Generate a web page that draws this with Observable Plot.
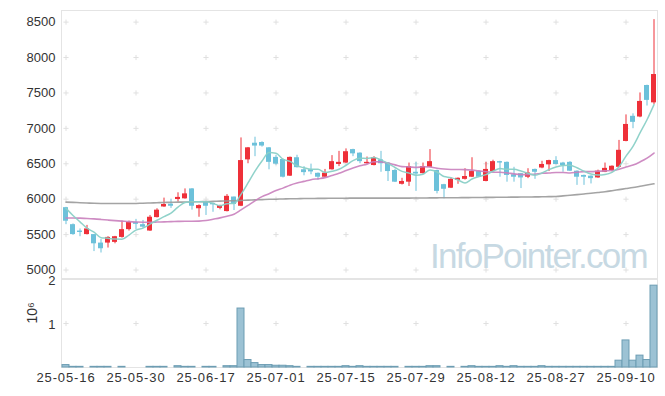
<!DOCTYPE html>
<html><head><meta charset="utf-8">
<script src="https://cdn.jsdelivr.net/npm/d3@7"></script>
<script src="https://cdn.jsdelivr.net/npm/@observablehq/plot@0.6"></script>
<style>
body{margin:0;background:#fff;}
#chart{position:relative;width:665px;height:396px;font-family:"Liberation Sans",Arial,sans-serif;overflow:hidden;}
#chart svg{position:absolute;left:0;overflow:visible;background:transparent;}
.wm{position:absolute;left:430px;top:238px;font-size:35px;line-height:35px;color:#c7d9e3;letter-spacing:-1.75px;white-space:nowrap;font-family:"Liberation Sans",Arial,sans-serif;}
</style></head><body><div id="chart"></div>
<script>
const dates = ["2025-05-16","2025-05-19","2025-05-20","2025-05-21","2025-05-22","2025-05-23","2025-05-26","2025-05-27","2025-05-28","2025-05-29",
"2025-05-30","2025-06-02","2025-06-04","2025-06-05","2025-06-09","2025-06-10","2025-06-11","2025-06-12","2025-06-13","2025-06-16",
"2025-06-17","2025-06-18","2025-06-19","2025-06-20","2025-06-23","2025-06-24","2025-06-25","2025-06-26","2025-06-27","2025-06-30",
"2025-07-01","2025-07-02","2025-07-03","2025-07-04","2025-07-07","2025-07-08","2025-07-09","2025-07-10","2025-07-11","2025-07-14",
"2025-07-15","2025-07-16","2025-07-17","2025-07-18","2025-07-21","2025-07-22","2025-07-23","2025-07-24","2025-07-25","2025-07-28",
"2025-07-29","2025-07-30","2025-07-31","2025-08-01","2025-08-04","2025-08-05","2025-08-06","2025-08-07","2025-08-08","2025-08-11",
"2025-08-12","2025-08-13","2025-08-14","2025-08-18","2025-08-19","2025-08-20","2025-08-21","2025-08-22","2025-08-25","2025-08-26",
"2025-08-27","2025-08-28","2025-08-29","2025-09-01","2025-09-02","2025-09-03","2025-09-04","2025-09-05","2025-09-08","2025-09-09",
"2025-09-10","2025-09-11","2025-09-12","2025-09-15","2025-09-16"];
const open = [5880,5640,5550,5500,5500,5380,5380,5390,5460,5570,
5670,5640,5550,5740,5890,5930,5995,6005,6145,5865,
5955,5940,5870,5825,6030,5900,6555,6790,6800,6725,
6590,6560,6325,6585,6415,6415,6365,6310,6415,6490,
6510,6700,6650,6500,6475,6555,6510,6405,6210,6240,
6380,6360,6450,6405,6205,6155,6265,6280,6310,6390,
6250,6390,6530,6520,6345,6360,6310,6420,6440,6485,
6545,6510,6520,6395,6335,6325,6300,6380,6405,6450,
6815,7170,7160,7605,7360];
const high = [5885,5650,5580,5630,5500,5430,5470,5475,5690,5690,
5715,5700,5770,5865,6015,6000,6090,6145,6150,5920,
5960,5945,5915,6065,6030,6865,6730,6875,6810,6730,
6620,6565,6595,6620,6460,6495,6370,6420,6615,6675,
6710,6705,6655,6595,6600,6675,6515,6420,6295,6510,
6520,6510,6700,6410,6210,6300,6300,6430,6585,6395,
6520,6550,6535,6525,6450,6365,6430,6425,6535,6550,
6600,6520,6530,6400,6340,6330,6410,6510,6470,6830,
7190,7205,7500,7610,8535];
const low = [5640,5490,5470,5495,5260,5240,5310,5370,5450,5550,
5570,5590,5545,5735,5885,5870,5960,6000,5845,5745,
5770,5815,5850,5820,5840,5895,6500,6600,6735,6415,
6480,6300,6320,6440,6330,6345,6265,6305,6410,6460,
6505,6600,6500,6495,6470,6380,6250,6235,6200,6180,
6110,6355,6445,6075,6005,6150,6210,6270,6305,6305,
6245,6385,6310,6240,6240,6150,6290,6280,6430,6390,
6485,6380,6390,6195,6195,6215,6295,6375,6385,6445,
6810,6995,7150,7315,7335];
const close = [5689,5500,5530,5580,5370,5300,5460,5470,5570,5670,
5645,5605,5745,5845,5925,5900,6025,6075,5900,5910,
5900,5920,5910,6040,5925,6545,6725,6750,6750,6520,
6495,6310,6590,6445,6375,6385,6310,6367,6530,6520,
6670,6640,6530,6520,6585,6500,6390,6240,6250,6460,
6355,6460,6530,6110,6140,6280,6295,6320,6390,6310,
6420,6530,6510,6335,6310,6300,6370,6380,6490,6545,
6490,6475,6395,6310,6310,6290,6395,6435,6465,6690,
7055,7085,7380,7395,7760];
const volume = [55000,15000,15000,3000,15000,15000,15000,3000,15000,3000,
3000,3000,15000,15000,15000,3000,30000,15000,15000,3000,
15000,15000,3000,30000,30000,1340000,170000,100000,55000,55000,
40000,40000,30000,15000,3000,15000,15000,15000,15000,15000,
30000,15000,30000,15000,15000,15000,15000,15000,3000,15000,
15000,15000,30000,30000,3000,15000,3000,15000,30000,15000,
15000,15000,30000,15000,30000,15000,15000,15000,30000,15000,
15000,15000,15000,15000,15000,15000,15000,15000,15000,155000,
615000,155000,270000,170000,1860000];
const ma5 = [5870,5770,5680,5590,5534,5456,5448,5436,5434,5494,
5563,5592,5647,5702,5753,5804,5888,5954,5965,5962,
5962,5941,5908,5936,5939,6068,6229,6397,6539,6658,
6648,6565,6533,6472,6443,6421,6421,6376,6393,6422,
6479,6545,6578,6576,6589,6555,6505,6447,6393,6368,
6339,6353,6411,6383,6319,6304,6271,6229,6285,6319,
6347,6394,6432,6421,6421,6397,6365,6339,6370,6417,
6455,6476,6479,6443,6396,6356,6340,6348,6379,6455,
6608,6746,6935,7121,7335];
const ma20 = [5735,5735,5732,5728,5722,5714,5705,5697,5690,5683,
5678,5675,5675,5677,5680,5683,5686,5688,5688,5690,
5698,5717,5736,5759,5787,5849,5913,5977,6036,6078,
6121,6156,6198,6228,6251,6275,6289,6304,6335,6366,
6404,6440,6471,6495,6528,6526,6509,6484,6459,6456,
6449,6457,6454,6437,6425,6420,6419,6417,6410,6399,
6387,6381,6380,6371,6357,6347,6346,6353,6365,6369,
6376,6377,6370,6380,6389,6389,6394,6400,6404,6423,
6455,6482,6526,6579,6651];
const ma60 = [5958,5955,5950,5946,5942,5940,5939,5938,5938,5938,
5940,5943,5946,5950,5953,5956,5958,5960,5962,5964,
5966,5969,5972,5975,5978,5982,5986,5990,5994,5998,
6000,6003,6005,6007,6009,6010,6011,6012,6013,6014,
6014,6015,6015,6015,6015,6015,6015,6015,6015,6015,
6016,6017,6018,6019,6020,6020,6021,6022,6023,6024,
6025,6026,6027,6028,6029,6030,6031,6032,6034,6036,
6038,6046,6055,6064,6074,6084,6095,6106,6120,6135,
6150,6165,6182,6199,6217];
const dateTicks = ["2025-05-16","2025-05-30","2025-06-17","2025-07-01","2025-07-15","2025-07-29","2025-08-12","2025-08-27","2025-09-10"];
const priceTicks = [5000,5500,6000,6500,7000,7500,8000,8500];
const volumeTicks = [1000000,2000000];

const RED = "#ee3039", BLUE = "#6cc1da";
const data = dates.map((d, i) => ({date: d, open: open[i], high: high[i], low: low[i], close: close[i],
  volume: volume[i], ma5: ma5[i], ma20: ma20[i], ma60: ma60[i]}));
const col = d => d.close >= d.open ? RED : BLUE;
const crossTop = dateTicks.flatMap(x => priceTicks.map(y => ({x, y})));
const crossBot = dateTicks.map(x => ({x, y: 1000000}));
const font = "'Liberation Sans', Arial, sans-serif";

const topPlot = Plot.plot({
  width: 665, height: 279, marginTop: 10, marginBottom: 1, marginLeft: 61, marginRight: 8,
  style: {fontFamily: font, fontSize: "13px", color: "#333", background: "transparent", overflow: "visible"},
  color: {type: "identity"},
  x: {type: "band", domain: dates, padding: 0, axis: null},
  y: {domain: [4880, 8664], ticks: priceTicks, tickSize: 0, tickPadding: 6, label: null, tickFormat: d => String(d)},
  marks: [
    Plot.frame({stroke: "#e4e4e4"}),
    Plot.dot(crossTop, {x: "x", y: "y", symbol: "plus", r: 1.8, stroke: "#e0e0e0", strokeWidth: 1}),
    Plot.ruleX(data, {x: "date", y1: "low", y2: "high", stroke: col, strokeWidth: 1}),
    Plot.barY(data, {x: "date", y1: "open", y2: "close", fill: col, insetLeft: 1, insetRight: 1}),
    Plot.line(data, {x: "date", y: "ma60", stroke: "#9a9a9a", strokeWidth: 1.6, curve: "monotone-x", strokeOpacity: 0.9}),
    Plot.line(data, {x: "date", y: "ma20", stroke: "#c97fbd", strokeWidth: 1.6, curve: "monotone-x", strokeOpacity: 0.9}),
    Plot.line(data, {x: "date", y: "ma5", stroke: "#8ad0c7", strokeWidth: 1.5, curve: "monotone-x", strokeOpacity: 0.95})
  ]
});
topPlot.style.top = "0px";

const botPlot = Plot.plot({
  width: 665, height: 117, marginTop: 0, marginBottom: 29, marginLeft: 61, marginRight: 8,
  style: {fontFamily: font, fontSize: "13px", color: "#333", background: "transparent", overflow: "visible"},
  color: {type: "identity"},
  x: {type: "band", domain: dates, padding: 0, ticks: dateTicks, tickSize: 0, tickPadding: 5, label: null, tickFormat: d => d.slice(2)},
  y: {axis: null, domain: [0, 2000000]},
  marks: [
    Plot.frame({stroke: "#e4e4e4"}),
    Plot.axisY(volumeTicks, {tickSize: 0, tickPadding: 6, label: null, dy: 1.5, tickFormat: d => String(d / 1000000)}),
    Plot.dot(crossBot, {x: "x", y: "y", symbol: "plus", r: 1.8, stroke: "#e0e0e0", strokeWidth: 1}),
    Plot.barY(data.filter(d => d.volume >= 8000), {x: "date", y: "volume", fill: "#9cc2d4", stroke: "#6d9db3", strokeWidth: 1}),
    Plot.text(["10⁶"], {frameAnchor: "left", dx: -29, rotate: -90, fontSize: 14, fill: "#333"})
  ]
});
botPlot.style.top = "279px";
d3.select(botPlot).selectAll('g[aria-label="x-axis tick label"] text').style("letter-spacing", "0.9px");

const chart = document.getElementById("chart");
chart.appendChild(topPlot);
chart.appendChild(botPlot);
const wm = document.createElement("div");
wm.className = "wm";
wm.textContent = "InfoPointer.com";
chart.appendChild(wm);
</script>
</body></html>
